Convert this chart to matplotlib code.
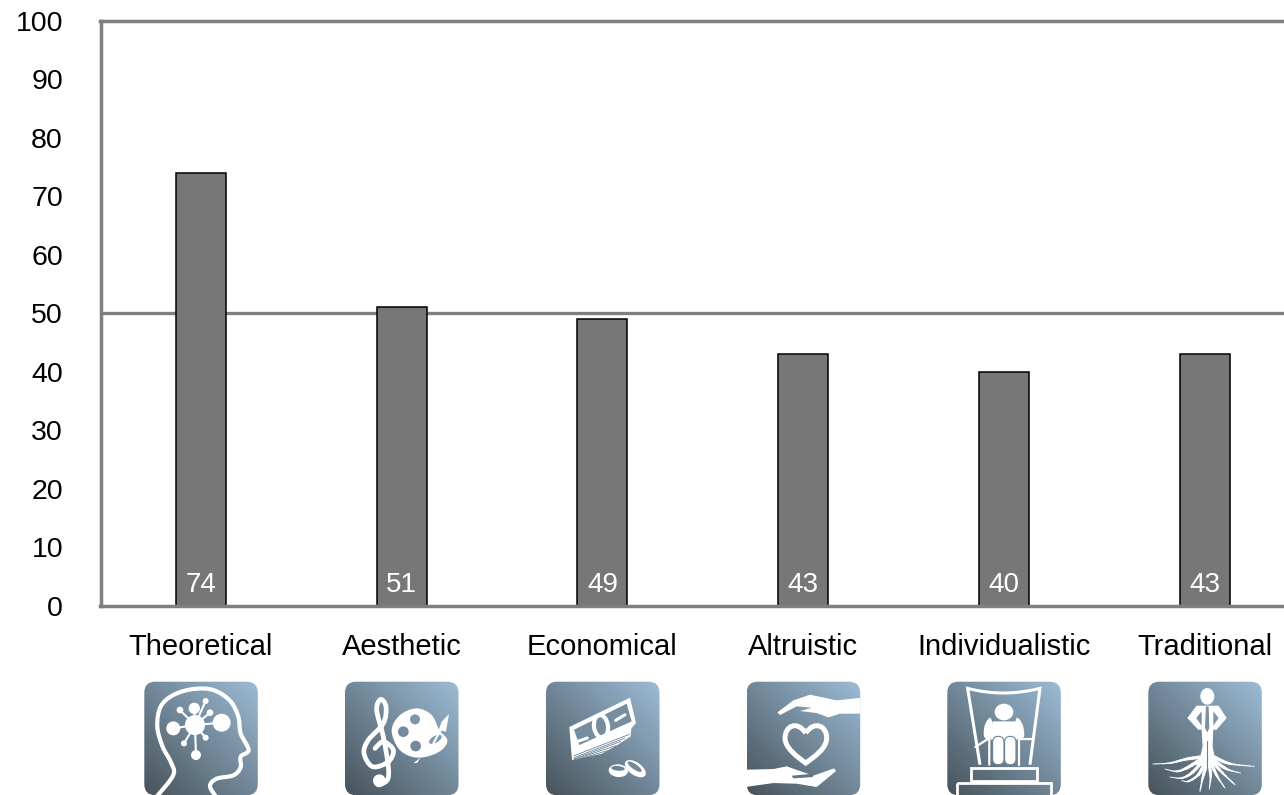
import numpy as np
import matplotlib
matplotlib.use("Agg")
import matplotlib.pyplot as plt
from matplotlib.patches import FancyBboxPatch, Ellipse, Circle, Polygon, PathPatch
from matplotlib.path import Path
from matplotlib.transforms import Affine2D

plt.rcParams['font.family'] = ['Liberation Sans', 'DejaVu Sans']

categories = ['Theoretical', 'Aesthetic', 'Economical', 'Altruistic', 'Individualistic', 'Traditional']
values = [74, 51, 49, 43, 40, 43]
yticks = [0, 10, 20, 30, 40, 50, 60, 70, 80, 90, 100]
reference = 50

W, H = 1284, 795
GREY = '#7f7f7f'
fig = plt.figure(figsize=(W / 100, H / 100), dpi=100)
ax = fig.add_axes([100.5 / W, 1 - 605.5 / H, (W - 100.5) / W, (605.5 - 21) / H])

x = np.arange(len(categories))
ax.axhline(reference, color=GREY, lw=2.4, zorder=1)
ax.bar(x, values, width=0.249, color='#777777', edgecolor='#000000', linewidth=1.1, zorder=2)
for i, v in zip(x, values):
    ax.annotate(str(v), (i, 0), xytext=(0, 14.8), textcoords='offset points', ha='center', va='center',
                color='white', fontsize=20, zorder=4)

ax.set_xlim(-0.5, 5.395)
ax.set_ylim(0, 100)
ax.set_yticks(yticks)
ax.set_xticks(x)
ax.set_xticklabels(categories)
ax.tick_params(axis='y', length=0, pad=27, labelsize=20.5)
ax.tick_params(axis='x', length=0, pad=20, labelsize=21)
ax.spines['right'].set_visible(False)
for s in ['left', 'top', 'bottom']:
    ax.spines[s].set_color(GREY)
    ax.spines[s].set_linewidth(2.5)

# overlay in pixel coordinates for the icons under the labels
ov = fig.add_axes([0, 0, 1, 1], zorder=5)
ov.set_axis_off()
ov.patch.set_alpha(0)

SIZE = 113.5
LIGHT = np.array([0x9c, 0xbc, 0xd6]) / 255
DARK = np.array([0x47, 0x53, 0x5b]) / 255


def grad(u, v):
    # u right, v down, both 0..1
    t = (u + (1 - v)) / 2
    return LIGHT * t + DARK * (1 - t)


def smooth(pts, closed=False):
    pts = np.asarray(pts, float)
    n = len(pts)
    verts = [pts[0]]
    codes = [Path.MOVETO]
    segs = n if closed else n - 1
    for i in range(segs):
        if closed:
            p0, p1, p2, p3 = pts[(i - 1) % n], pts[i], pts[(i + 1) % n], pts[(i + 2) % n]
        else:
            p0, p1, p2, p3 = pts[max(i - 1, 0)], pts[i], pts[i + 1], pts[min(i + 2, n - 1)]
        verts += [p1 + (p2 - p0) / 6, p2 - (p3 - p1) / 6, p2]
        codes += [Path.CURVE4] * 3
    return Path(verts, codes)


class Icon:
    # shapes are given in 3x zoom coordinates, ox/oy is the icon corner there
    def __init__(self, x0, y0, ox, oy):
        self.x0, self.y0, self.ox, self.oy = x0, y0, ox, oy
        self.tr = Affine2D().translate(-ox, -oy).scale(1 / 3).translate(x0, y0) + ov.transData
        uu, vv = np.meshgrid(np.linspace(0, 1, 120), np.linspace(0, 1, 120))
        img = grad(uu[..., None], vv[..., None])
        im = ov.imshow(img, extent=(x0, x0 + SIZE, y0 + SIZE, y0), aspect='auto', zorder=1)
        self.box = FancyBboxPatch((x0 + 11, y0 + 11), SIZE - 22, SIZE - 22,
                                  boxstyle='round,pad=11,rounding_size=11', fc='none', ec='none',
                                  transform=ov.transData)
        ov.add_patch(self.box)
        im.set_clip_path(self.box)

    def bg(self, px, py):
        return grad((px - self.ox) / 340, (py - self.oy) / 340)

    def add(self, patch, z=2):
        patch.set_transform(self.tr)
        patch.set_zorder(z)
        ov.add_patch(patch)
        patch.set_clip_path(self.box)
        return patch

    def line(self, pts, lw=1.5, color='white', z=2):
        self.add(PathPatch(smooth(pts), fc='none', ec=color, lw=lw, capstyle='round', joinstyle='round'), z)

    def straight(self, pts, lw=1.5, color='white', z=2):
        self.add(PathPatch(Path(pts), fc='none', ec=color, lw=lw, capstyle='round', joinstyle='miter'), z)

    def taper(self, pts, w0, w1=0.4, z=2):
        # thick at the first point, thin at the last
        flat = smooth(pts).to_polygons(closed_only=False)[0]
        for k in range(len(flat) - 1):
            self.straight([flat[k], flat[k + 1]], lw=w0 + (w1 - w0) * k / (len(flat) - 1), z=z)

    def fill(self, pts, color='white', z=2, curved=False):
        if curved:
            self.add(PathPatch(smooth(pts, closed=True), fc=color, ec='none'), z)
        else:
            self.add(Polygon(pts, closed=True, fc=color, ec='none'), z)

    def dot(self, cx, cy, r, color='white', z=2):
        self.add(Circle((cx, cy), r, fc=color, ec='none'), z)

    def ell(self, cx, cy, w, h, angle=0, fc='white', ec='none', lw=0, z=2):
        self.add(Ellipse((cx, cy), w, h, angle=angle, fc=fc, ec=ec, lw=lw), z)


# brain / head
ic = Icon(144.3, 681.7, 433, 425)
ic.line([(470, 770), (520, 705), (512, 665), (488, 620), (472, 560), (482, 500), (520, 465), (580, 447),
         (640, 450), (690, 482), (715, 530), (722, 580), (746, 630), (722, 650), (722, 682), (700, 706),
         (650, 716), (630, 738), (648, 770)], lw=3.0)
c = (585, 555)
for cx, cy, r in [(520, 565, 21), (665, 548, 27), (583, 505, 17), (588, 645, 15), (540, 510, 10),
                  (617, 483, 9), (630, 518, 10), (552, 610, 9), (617, 593, 9)]:
    ic.dot(cx, cy, r)
    ic.straight([c, (cx, cy)], lw=1.5)
ic.dot(c[0], c[1], 30)

# clef and palette
ic = Icon(345.0, 681.7, 1035, 425)
ic.line([(1135, 735), (1162, 720), (1165, 680), (1150, 590), (1130, 510), (1142, 478), (1158, 500),
         (1150, 550), (1105, 600), (1092, 640), (1118, 680), (1165, 665), (1180, 630), (1150, 605), (1125, 625)],
        lw=3.4)
ic.dot(1138, 722, 19)
ic.fill([(1175, 570), (1200, 525), (1250, 505), (1295, 525), (1318, 570), (1342, 600), (1325, 630),
         (1280, 650), (1235, 650), (1195, 625)], curved=True)
for cx, cy, r in [(1245, 538, 15), (1210, 575, 16), (1247, 618, 16)]:
    ic.dot(cx, cy, r, color=ic.bg(cx, cy), z=3)
ic.ell(1306, 598, 42, 20, angle=-30, fc=ic.bg(1306, 598), z=3)
ic.straight([(1300, 610), (1322, 570)], lw=1.5, z=4)
ic.fill([(1316, 570), (1325, 545), (1347, 522), (1338, 575)])
ic.fill([(1240, 670), (1262, 652), (1252, 668)])

# money
ic = Icon(546.0, 681.7, 48, 36)
ic.fill([(118, 172), (300, 84), (318, 160), (304, 176), (302, 200), (262, 226), (216, 252), (126, 271)])
ic.fill([(132, 180), (290, 102), (305, 155), (148, 226)], color=ic.bg(215, 165), z=3)
ic.ell(213, 170, 42, 68, angle=-8, fc='none', ec='white', lw=3.0, z=4)
ic.straight([(143, 215), (172, 205)], lw=2.2, z=4)
ic.straight([(257, 152), (285, 135)], lw=2.2, z=4)
for y1, y2 in [(256, 194), (262, 205), (266, 215), (268, 228), (270, 240)]:
    ic.straight([(132, y1 + 2), (298 - (y2 - 194) * 1.2, y2)], lw=0.6, color=ic.bg(220, 230), z=3)
ic.ell(265, 303, 58, 38, angle=5, fc='white')
ic.ell(264, 296, 40, 14, angle=5, fc=ic.bg(265, 298), z=3)
ic.ell(316, 297, 72, 38, angle=35, fc='white', z=4)
ic.ell(314, 291, 50, 16, angle=35, fc=ic.bg(314, 291), z=5)

# hands and heart
ic = Icon(746.7, 681.7, 650, 36)
ic.fill([(742, 128), (790, 92), (840, 75), (920, 92), (995, 84), (995, 132), (930, 132), (895, 143),
         (860, 130), (810, 124), (845, 114), (800, 110), (750, 136)])
ic.fill([(645, 300), (730, 298), (770, 290), (850, 318), (912, 296), (918, 304), (860, 352), (800, 342),
         (730, 340), (645, 352)])
ic.fill([(785, 318), (850, 312), (848, 322), (790, 326)], color=ic.bg(815, 320), z=3)
heart = Path([(827, 190), (800, 150), (765, 170), (765, 205), (765, 235), (800, 260), (827, 280),
              (855, 260), (890, 235), (890, 205), (890, 170), (855, 150), (827, 190)],
             [Path.MOVETO] + [Path.CURVE4] * 12)
ic.add(PathPatch(heart, fc='none', ec='white', lw=3.6, joinstyle='miter'))

# man on a throne
ic = Icon(947.3, 681.7, 52, 36)
ic.add(PathPatch(Path([(150, 285), (113, 56), (220, 84), (330, 56), (300, 285)],
                      [Path.MOVETO, Path.LINETO, Path.CURVE3, Path.CURVE3, Path.LINETO]),
                 fc='none', ec='white', lw=2.2, joinstyle='miter'))
ic.straight([(136, 232), (178, 205), (178, 285)], lw=1.6)
ic.straight([(306, 208), (268, 208), (268, 285)], lw=1.6)
ic.ell(222, 127, 56, 50)
ic.fill([(188, 155), (255, 155), (262, 210), (182, 210)], z=3)
ic.fill([(182, 145), (165, 165), (162, 200), (178, 208), (192, 190)], curved=True, z=3)
ic.fill([(260, 145), (278, 165), (282, 200), (265, 208), (252, 190)], curved=True, z=3)
for cx in [205, 241]:
    ic.add(FancyBboxPatch((cx - 17, 200), 34, 85, boxstyle='round,pad=0,rounding_size=17', fc='white',
                          ec=ic.bg(cx, 240), lw=0.8), 4)
ic.add(FancyBboxPatch((122, 295), 200, 40, boxstyle='square,pad=0', fc='none', ec='white', lw=2.0))
ic.add(FancyBboxPatch((82, 340), 280, 60, boxstyle='square,pad=0', fc='none', ec='white', lw=2.0))

# man with roots
ic = Icon(1148.3, 681.7, 655, 36)
ic.ell(832, 80, 42, 50)
ic.fill([(800, 108), (866, 108), (890, 145), (860, 180), (850, 180), (848, 230), (855, 265), (870, 285),
         (832, 290), (795, 285), (810, 265), (818, 230), (815, 180), (805, 180), (772, 145)])
ic.fill([(799, 145), (815, 125), (815, 168)], color=ic.bg(805, 145), z=3)
ic.fill([(866, 145), (850, 125), (850, 168)], color=ic.bg(858, 145), z=3)
ic.fill([(828, 110), (836, 110), (838, 175), (832, 188), (825, 175)], color=ic.bg(832, 150), z=3)
ic.straight([(831, 215), (831, 300)], lw=0.8, color=ic.bg(831, 260), z=3)
roots = [
    [(815, 262), (770, 268), (720, 280), (668, 283)],
    [(808, 272), (770, 295), (740, 305), (705, 298)],
    [(815, 278), (785, 310), (755, 325), (720, 322)],
    [(825, 280), (805, 315), (775, 335), (755, 332)],
    [(830, 285), (818, 325), (810, 365)],
    [(838, 285), (842, 320), (838, 358)],
    [(842, 278), (862, 320), (885, 355)],
    [(846, 275), (878, 310), (915, 345)],
    [(850, 270), (890, 298), (932, 310)],
    [(852, 262), (900, 282), (973, 290)],
]
for r in roots:
    ic.taper(r, 2.6)

ov.set_xlim(0, W)
ov.set_ylim(H, 0)

fig.savefig('out.png', dpi=100)
